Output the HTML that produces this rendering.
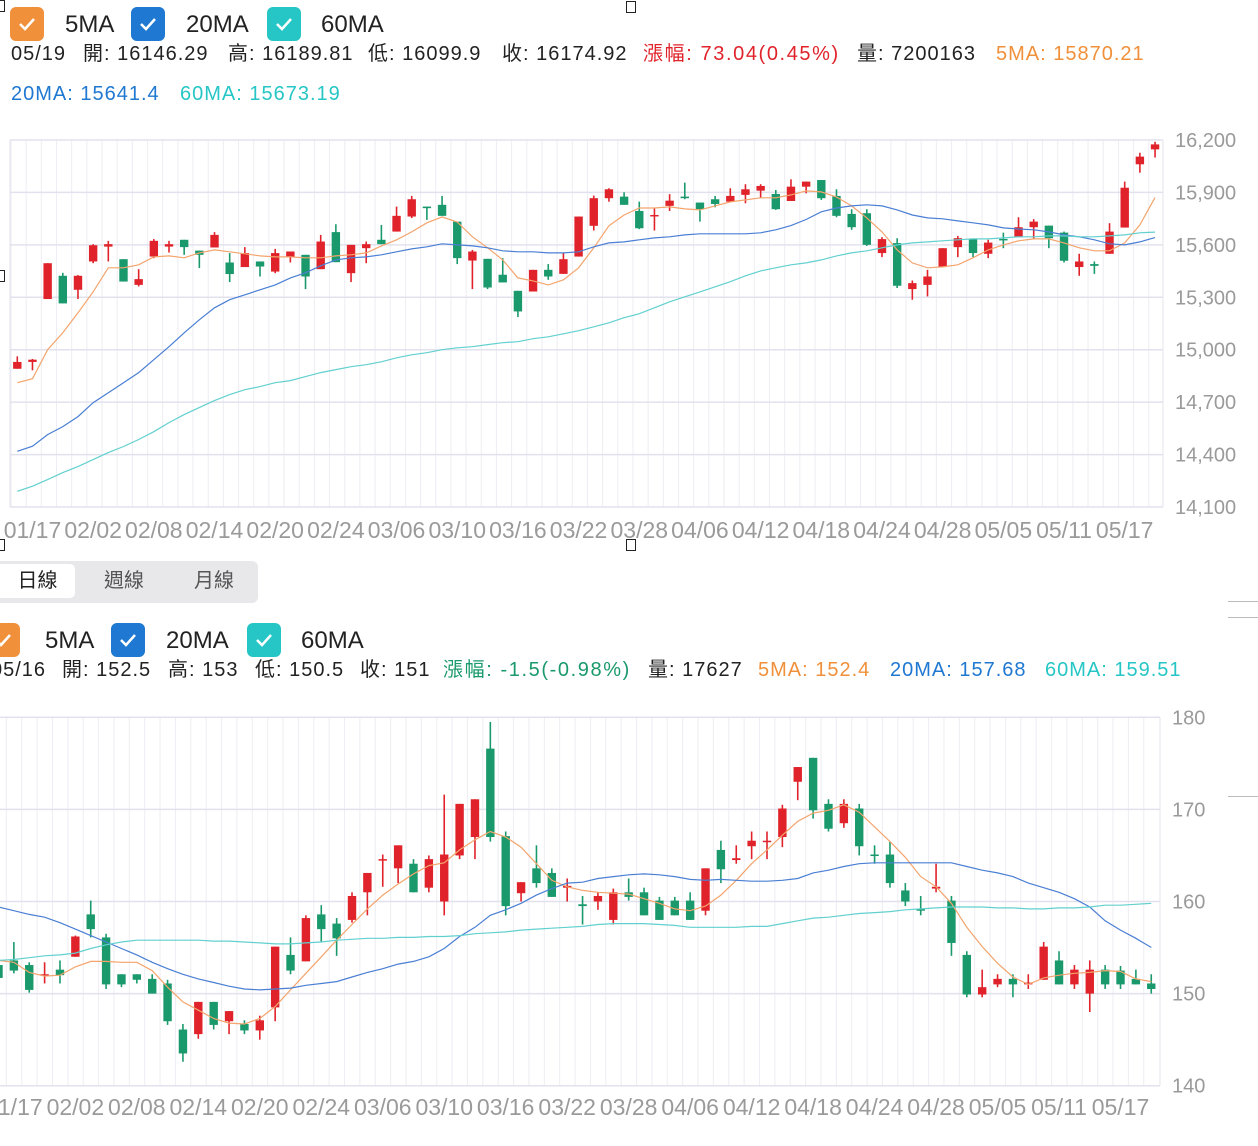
<!DOCTYPE html>
<html><head><meta charset="utf-8">
<style>
body{margin:0;width:1258px;height:1146px;overflow:hidden;background:#fff;font-family:"Liberation Sans","Noto Sans CJK TC",sans-serif;position:relative}
.t{position:absolute;white-space:nowrap;font-size:20px;letter-spacing:1px;color:#222;line-height:24px}
.cb{position:absolute;width:34px;height:34px;border-radius:6px}
.cb svg{position:absolute;left:8px;top:9px}
.lg{position:absolute;font-size:24px;color:#222;line-height:36px}
.red{color:#e0232b}.grn{color:#1a9a6c}.org{color:#f0903a}.blu{color:#1f78d1}.cyn{color:#26c6c6}
.tabs{position:absolute;left:0;top:561px;width:258px;height:42px;background:#e8e8ea;border-radius:0 6px 6px 0}
.tab{position:absolute;top:3px;height:34px;line-height:34px;font-size:20px;color:#555;text-align:center}
.h{position:absolute;border:1px solid #222;background:#fff;width:8px;height:10px}
svg#c{position:absolute;left:0;top:0}
</style></head><body>
<svg id="c" width="1258" height="1146"></svg>

<div class="cb" style="left:10px;top:7px;background:#f0903a"><svg width="18" height="16"><path d="M2 8 L7 13 L16 3" stroke="#fff" stroke-width="2.5" fill="none"/></svg></div>
<div class="lg" style="left:65px;top:7px">5MA</div>
<div class="cb" style="left:131px;top:7px;background:#1f78d1"><svg width="18" height="16"><path d="M2 8 L7 13 L16 3" stroke="#fff" stroke-width="2.5" fill="none"/></svg></div>
<div class="lg" style="left:186px;top:7px">20MA</div>
<div class="cb" style="left:267px;top:7px;background:#26c6c6"><svg width="18" height="16"><path d="M2 8 L7 13 L16 3" stroke="#fff" stroke-width="2.5" fill="none"/></svg></div>
<div class="lg" style="left:321px;top:7px">60MA</div>

<div class="t" style="left:11px;top:42px">05/19</div>
<div class="t" style="left:83px;top:42px">開: 16146.29</div>
<div class="t" style="left:228px;top:42px">高: 16189.81</div>
<div class="t" style="left:368px;top:42px">低: 16099.9</div>
<div class="t" style="left:502px;top:42px">收: 16174.92</div>
<div class="t red" style="left:643px;top:42px;letter-spacing:1.6px">漲幅: 73.04(0.45%)</div>
<div class="t" style="left:857px;top:42px">量: 7200163</div>
<div class="t org" style="left:996px;top:42px">5MA: 15870.21</div>
<div class="t blu" style="left:11px;top:82px">20MA: 15641.4</div>
<div class="t cyn" style="left:180px;top:82px">60MA: 15673.19</div>

<div class="tabs">
<div class="tab" style="left:0;width:75px;background:#fff;border-radius:0 5px 5px 0;color:#222">日線</div>
<div class="tab" style="left:86px;width:76px">週線</div>
<div class="tab" style="left:176px;width:76px">月線</div>
</div>

<div class="cb" style="left:-14px;top:623px;background:#f0903a"><svg width="18" height="16"><path d="M2 8 L7 13 L16 3" stroke="#fff" stroke-width="2.5" fill="none"/></svg></div>
<div class="lg" style="left:45px;top:623px">5MA</div>
<div class="cb" style="left:111px;top:623px;background:#1f78d1"><svg width="18" height="16"><path d="M2 8 L7 13 L16 3" stroke="#fff" stroke-width="2.5" fill="none"/></svg></div>
<div class="lg" style="left:166px;top:623px">20MA</div>
<div class="cb" style="left:247px;top:623px;background:#26c6c6"><svg width="18" height="16"><path d="M2 8 L7 13 L16 3" stroke="#fff" stroke-width="2.5" fill="none"/></svg></div>
<div class="lg" style="left:301px;top:623px">60MA</div>

<div class="t" style="left:-9px;top:658px">05/16</div>
<div class="t" style="left:62px;top:658px">開: 152.5</div>
<div class="t" style="left:168px;top:658px">高: 153</div>
<div class="t" style="left:255px;top:658px">低: 150.5</div>
<div class="t" style="left:360px;top:658px">收: 151</div>
<div class="t grn" style="left:443px;top:658px;letter-spacing:1.6px">漲幅: -1.5(-0.98%)</div>
<div class="t" style="left:648px;top:658px">量: 17627</div>
<div class="t org" style="left:758px;top:658px">5MA: 152.4</div>
<div class="t blu" style="left:890px;top:658px">20MA: 157.68</div>
<div class="t cyn" style="left:1045px;top:658px">60MA: 159.51</div>

<div class="h" style="left:-5px;top:0"></div>
<div class="h" style="left:626px;top:1px"></div>
<div class="h" style="left:-5px;top:270px"></div>
<div class="h" style="left:626px;top:539px"></div>
<div class="h" style="left:-5px;top:539px"></div>
<div style="position:absolute;left:1228px;top:601px;width:30px;height:1px;background:#bbb"></div>
<div style="position:absolute;left:1228px;top:617px;width:30px;height:1px;background:#bbb"></div>
<div style="position:absolute;left:1228px;top:796px;width:30px;height:1px;background:#bbb"></div>

<script>
const dateLabels=["01/17","02/02","02/08","02/14","02/20","02/24","03/06","03/10","03/16","03/22","03/28","04/06","04/12","04/18","04/24","04/28","05/05","05/11","05/17"];
const topTicks=[16200,15900,15600,15300,15000,14700,14400,14100];
const botTicks=[180,170,160,150,140];
const topOpen=[14891,14930,15290,15423,15343,15505,15590,15518,15371,15533,15590,15629,15567,15585,15499,15473,15505,15447,15533,15543,15461,15673,15438,15581,15629,15676,15762,15819,15829,15733,15510,15520,15429,15337,15333,15457,15434,15533,15709,15867,15876,15794,15766,15823,15876,15842,15861,15847,15886,15910,15891,15851,15933,15971,15880,15777,15781,15553,15610,15347,15371,15473,15587,15633,15549,15634,15644,15701,15710,15670,15473,15490,15549,15699,16061,16146.29];
const topHigh=[14962,14947,15495,15440,15427,15604,15623,15518,15461,15633,15623,15629,15567,15673,15553,15587,15505,15577,15562,15543,15657,15718,15600,15619,15714,15819,15880,15819,15880,15733,15571,15520,15524,15337,15457,15490,15553,15762,15882,15924,15901,15847,15810,15890,15956,15842,15880,15924,15947,15947,15914,15975,15962,15971,15918,15804,15804,15644,15638,15396,15457,15581,15651,15633,15629,15670,15758,15747,15710,15676,15549,15505,15724,15962,16127,16189.81];
const topLow=[14891,14882,15290,15265,15290,15495,15505,15390,15362,15524,15556,15543,15467,15585,15387,15473,15419,15438,15499,15347,15461,15501,15387,15495,15604,15676,15753,15743,15766,15490,15347,15347,15385,15187,15333,15400,15434,15533,15682,15847,15829,15690,15682,15794,15861,15733,15815,15847,15838,15867,15800,15851,15895,15857,15758,15686,15594,15530,15353,15286,15305,15473,15530,15530,15524,15581,15644,15633,15581,15499,15423,15434,15549,15699,16013,16099.9];
const topClose=[14930,14943,15495,15265,15423,15598,15604,15390,15404,15623,15604,15587,15543,15657,15433,15553,15476,15553,15562,15419,15619,15501,15600,15604,15604,15766,15861,15810,15766,15524,15562,15356,15385,15219,15457,15419,15518,15762,15867,15918,15829,15695,15771,15853,15867,15804,15834,15880,15918,15937,15804,15933,15962,15867,15766,15701,15600,15633,15366,15381,15419,15581,15638,15553,15613,15629,15701,15733,15638,15509,15505,15480,15676,15927,16105,16174.92];
const topMA5=[14811,14834,15000,15097,15211,15331,15469,15469,15486,15531,15537,15526,15554,15571,15560,15549,15537,15531,15531,15526,15526,15537,15543,15554,15594,15629,15674,15726,15760,15731,15646,15583,15514,15411,15394,15371,15400,15469,15583,15709,15771,15811,15811,15817,15806,15800,15823,15846,15857,15869,15869,15886,15909,15903,15874,15823,15754,15674,15571,15497,15469,15474,15486,15526,15571,15600,15623,15634,15634,15611,15583,15566,15566,15611,15714,15870.21];
const topMA20=[14419,14448,14514,14560,14617,14697,14754,14811,14869,14943,15017,15097,15171,15240,15286,15314,15343,15371,15411,15440,15480,15514,15526,15531,15543,15560,15577,15589,15606,15600,15594,15583,15566,15560,15560,15554,15554,15560,15589,15611,15617,15629,15640,15646,15657,15663,15663,15663,15663,15669,15686,15710,15745,15789,15811,15823,15829,15823,15800,15771,15754,15749,15737,15726,15714,15697,15691,15686,15674,15657,15646,15629,15606,15600,15617,15641.4];
const topMA60=[14190,14219,14257,14297,14331,14371,14411,14446,14486,14531,14583,14629,14669,14709,14743,14771,14789,14811,14823,14846,14869,14886,14903,14914,14931,14954,14971,14983,15000,15011,15017,15029,15040,15046,15063,15074,15091,15109,15131,15154,15183,15206,15240,15274,15303,15331,15360,15389,15423,15451,15469,15486,15497,15514,15537,15554,15566,15583,15600,15611,15617,15623,15629,15634,15634,15640,15646,15646,15651,15651,15646,15646,15651,15657,15669,15673.19];
const botOpen=[153.1,153.6,153.1,152.0,152.6,154.0,158.6,156.1,152.1,152.1,151.6,151.1,146.1,145.6,149.1,147.0,146.7,146.0,148.5,154.2,153.5,158.6,157.6,158.0,161.0,164.5,163.6,164.1,161.5,160.0,165.0,167.0,176.6,167.1,160.9,163.6,163.1,161.5,159.7,160.0,158.0,161.0,161.0,160.1,160.1,160.1,159.0,165.6,164.5,166.0,166.5,167.0,173.0,175.6,170.6,168.5,170.1,165.1,165.1,161.2,159.2,161.4,160.1,154.2,149.9,151.0,151.6,151.0,151.5,153.6,151.0,150.0,152.6,152.5,151.6,151.1];
const botHigh=[153.5,155.6,153.4,153.4,153.6,156.3,160.1,156.5,152.1,152.1,152.1,151.5,146.7,149.1,149.1,148.1,147.1,147.6,155.1,156.1,158.5,159.6,158.2,161.0,163.1,165.1,166.1,164.6,165.0,171.6,170.6,171.1,179.5,167.6,162.1,166.1,163.6,162.5,160.6,161.0,161.4,162.5,161.5,160.5,160.5,161.0,163.6,166.6,166.1,167.6,167.6,170.5,174.6,175.6,171.1,171.1,170.6,166.1,166.5,162.0,160.6,164.1,160.6,154.6,152.6,152.1,152.1,152.1,155.6,154.6,153.1,153.6,153.1,153.0,152.6,152.1];
const botLow=[151.2,152.2,150.1,151.1,151.1,154.0,156.1,150.5,150.7,151.1,150.0,146.6,142.6,145.1,146.1,145.6,145.6,145.0,147.0,152.1,153.5,155.6,154.1,157.7,158.5,161.6,162.0,161.0,161.0,158.5,164.6,164.6,166.5,158.5,160.0,161.5,160.5,160.0,157.5,159.1,157.5,160.1,158.5,158.0,158.5,158.0,158.5,162.0,164.1,164.6,164.6,165.9,171.0,169.0,167.6,168.0,165.0,164.1,161.5,159.5,158.5,161.0,154.1,149.6,149.6,150.7,149.6,150.5,151.5,151.0,150.5,148.0,150.5,150.5,151.0,150.0];
const botClose=[151.7,152.5,150.4,152.1,152.0,156.2,157.0,151.0,151.0,151.5,150.0,147.0,143.5,149.1,146.6,148.1,146.0,147.1,155.1,152.5,158.2,157.0,156.0,160.6,163.1,164.6,166.1,161.0,164.6,165.1,170.6,171.1,167.0,159.5,162.1,162.0,160.5,161.7,159.5,160.6,161.0,160.5,158.5,158.0,158.5,158.0,163.6,163.5,164.7,166.6,166.6,170.1,174.6,169.9,167.9,170.6,166.0,165.0,162.0,160.0,159.0,161.6,155.5,149.9,150.7,151.6,151.0,151.2,155.1,151.0,152.6,152.6,151.0,151.0,151.0,150.5];
const botMA5=[153.6,153.4,152.3,151.9,152.0,152.9,153.5,153.5,153.4,153.4,152.5,150.7,149.1,148.2,147.3,146.8,146.7,147.3,148.6,150.4,152.2,154.0,155.8,157.5,159.2,160.7,161.9,163.0,163.9,164.2,165.6,166.7,167.6,167.0,165.9,164.1,162.3,161.6,161.2,161.0,160.9,160.8,160.3,159.8,159.2,159.0,159.5,160.7,162.3,164.1,165.6,167.2,168.7,169.6,169.9,170.5,169.7,168.1,166.5,164.8,162.7,161.6,159.8,157.2,155.1,153.3,151.8,151.0,151.7,152.0,152.2,152.3,152.5,152.4,151.6,151.3];
const botMA20=[159.4,159.0,158.6,158.3,157.7,157.0,156.3,155.6,154.9,154.2,153.4,152.7,152.1,151.6,151.2,150.8,150.5,150.4,150.5,150.6,150.9,151.1,151.3,151.8,152.3,152.7,153.2,153.5,154.0,154.9,156.2,157.2,158.5,159.1,159.8,160.7,161.4,162.0,162.1,162.5,162.7,162.9,163.0,162.9,162.7,162.4,162.3,162.4,162.3,162.2,162.2,162.3,162.5,163.1,163.4,163.8,164.1,164.2,164.2,164.2,164.2,164.2,164.2,163.8,163.4,163.1,162.7,162.0,161.5,161.0,160.3,159.4,157.9,156.9,156.0,155.0];
const botMA60=[153.6,153.7,153.9,154.1,154.2,154.4,154.9,155.3,155.6,155.8,155.8,155.8,155.8,155.8,155.7,155.7,155.6,155.5,155.4,155.4,155.5,155.6,155.8,155.9,156.0,156.0,156.1,156.1,156.2,156.2,156.3,156.5,156.6,156.7,156.9,157.0,157.1,157.2,157.3,157.5,157.6,157.6,157.6,157.5,157.4,157.2,157.2,157.2,157.2,157.3,157.3,157.6,157.9,158.2,158.3,158.5,158.7,158.8,158.9,159.1,159.2,159.3,159.4,159.4,159.4,159.3,159.3,159.2,159.2,159.3,159.3,159.4,159.6,159.6,159.7,159.8];

const NS='http://www.w3.org/2000/svg';
const svg=document.getElementById('c');
function mk(tag,attrs,parent){const e=document.createElementNS(NS,tag);for(const k in attrs)e.setAttribute(k,attrs[k]);(parent||svg).appendChild(e);return e;}

function drawChart(cfg,pre){
  const g=mk('g',{});
  
  
  const n=cfg.O.length;
  const xs=i=>cfg.x0+cfg.dx*i;
  const ys=v=>cfg.top+(cfg.max-v)/(cfg.max-cfg.min)*(cfg.bot-cfg.top);
  for(let i=0;i<n;i++){const gx=xs(i)-cfg.gOff;if(gx<cfg.left-1)continue;
    const l=mk('line',{x1:gx,x2:gx,y1:cfg.top,y2:cfg.bot,stroke:'#ededf3','stroke-width':1},g);
    
    }
  mk('line',{x1:cfg.right,x2:cfg.right,y1:cfg.top,y2:cfg.bot,stroke:'#e4e4ee','stroke-width':1},g);
  if(cfg.left>0)mk('line',{x1:cfg.left,x2:cfg.left,y1:cfg.top,y2:cfg.bot,stroke:'#e4e4ee','stroke-width':1},g);
  cfg.ticks.forEach(t=>{const y=ys(t);
    const l=mk('line',{x1:cfg.left,x2:cfg.right,y1:y,y2:y,stroke:'#e2e2ee','stroke-width':1.5},g);
    
    
    const tx=mk('text',{x:cfg.tickX,y:y+7,fill:'#9a9a9a','font-size':20,'font-family':'Liberation Sans, sans-serif'},g);
    tx.textContent=cfg.fmt(t);
    
    });
  dateLabels.forEach((d,k)=>{const i=1+4*k;
    const tx=mk('text',{x:xs(i),y:cfg.labelY,fill:'#9a9a9a','font-size':23,'text-anchor':'middle','font-family':'Liberation Sans, sans-serif'},g);
    tx.textContent=d;
    
    });
  for(let i=0;i<n;i++){const up=cfg.C[i]>=cfg.O[i];const col=up?'#e0232b':'#1a9a6c';const x=xs(i);
    const cg=mk('g',{},g);
    
    
    mk('line',{x1:x,x2:x,y1:ys(cfg.H[i]),y2:ys(cfg.L[i]),stroke:col,'stroke-width':1.6},cg);
    const t=ys(Math.max(cfg.O[i],cfg.C[i])),b=ys(Math.min(cfg.O[i],cfg.C[i]));
    mk('rect',{x:x-4.2,y:t,width:8.4,height:Math.max(1.5,b-t),fill:col},cg);}
  [[cfg.m5,'#f4a46c','5ma'],[cfg.m20,'#4a7fd4','20ma'],[cfg.m60,'#62d0cf','60ma']].forEach(([arr,col,nm])=>{
    const p=mk('polyline',{points:arr.map((v,i)=>xs(i).toFixed(1)+','+ys(v).toFixed(1)).join(' '),fill:'none',stroke:col,'stroke-width':1.2},g);
    
    });
}
drawChart({O:topOpen,H:topHigh,L:topLow,C:topClose,m5:topMA5,m20:topMA20,m60:topMA60,x0:17.3,dx:15.17,gOff:6.3,left:10,right:1163,top:140,bot:507,max:16200,min:14100,ticks:topTicks,tickX:1175,labelY:538,fmt:t=>t.toLocaleString('en-US')},'top');
drawChart({O:botOpen,H:botHigh,L:botLow,C:botClose,m5:botMA5,m20:botMA20,m60:botMA60,x0:-1.5,dx:15.37,gOff:7.5,left:0,right:1160,top:717.3,bot:1085.7,max:180,min:140,ticks:botTicks,tickX:1172,labelY:1115,fmt:t=>String(t)},'bottom');
</script>
</body></html>
